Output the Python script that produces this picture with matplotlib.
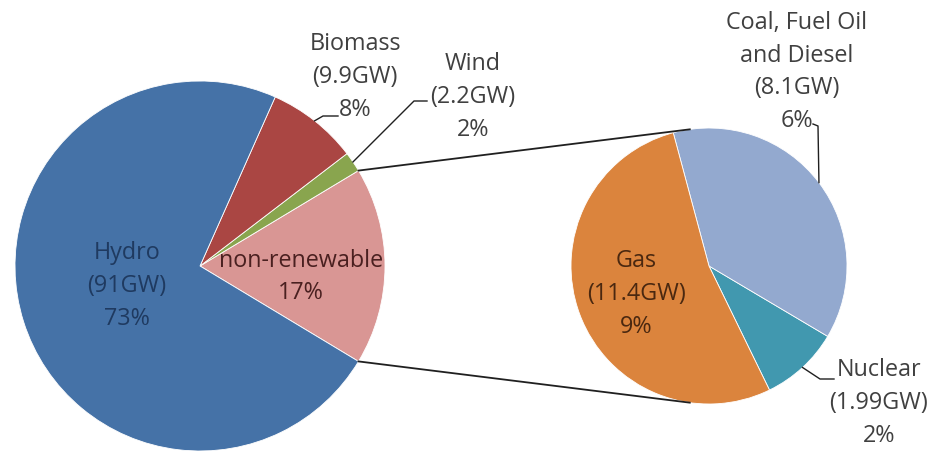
import numpy as np
import matplotlib.pyplot as plt

plt.rcParams['font.family'] = ['Open Sans', 'DejaVu Sans']

# left pie: renewable sources plus the grouped non-renewable slice
main_names = ['non-renewable', 'Wind', 'Biomass', 'Hydro']
main_gw = [2.2, 9.9, 91]           # Wind, Biomass, Hydro
main_pct = [17, 2, 8, 73]
main_colors = ['#D99694', '#89A54E', '#AA4643', '#4572A7']

# right pie: breakdown of non-renewable
sub_names = ['Nuclear', 'Coal, Fuel Oil\nand Diesel', 'Gas']
sub_gw = [1.99, 8.1, 11.4]
sub_pct = [2, 6, 9]
sub_colors = ['#4198AF', '#93A9CF', '#DB843D']

W, H = 936, 452
fig = plt.figure(figsize=(W / 100, H / 100), dpi=100)
ax = fig.add_axes([0, 0, 1, 1])

c1, r1 = (200, 185), 185
c2, r2 = (709, 185), 138

vals1 = [sum(sub_gw)] + main_gw
start1 = -180 * vals1[0] / sum(vals1)
wp = dict(edgecolor='white', linewidth=0.6)
ax.pie(vals1, colors=main_colors, startangle=start1, counterclock=True,
       center=c1, radius=r1, wedgeprops=wp)
ax.pie(sub_gw, colors=sub_colors, startangle=-64, counterclock=True,
       center=c2, radius=r2, wedgeprops=wp)

ax.set_xlim(0, W)
ax.set_ylim(0, H)
ax.set_aspect('equal')
ax.axis('off')


def pt(c, r, ang):
    a = np.radians(ang)
    return c[0] + r * np.cos(a), c[1] + r * np.sin(a)


# wedge boundary angles
edges1 = start1 + 360 * np.cumsum([0] + vals1) / sum(vals1)
edges2 = -64 + 360 * np.cumsum([0] + sub_gw) / sum(sub_gw)
mid1 = (edges1[:-1] + edges1[1:]) / 2
mid2 = (edges2[:-1] + edges2[1:]) / 2

# connector lines between the two pies
lc = '#202020'
for a_left, a_right in [(edges1[1], 98), (edges1[0], -98)]:
    x0, y0 = pt(c1, r1, a_left)
    x1, y1 = pt(c2, r2, a_right)
    ax.plot([x0, x1], [y0, y1], color=lc, lw=1.3)

fs = 16.8
ls = 1.48
dark = '#404040'

# inside labels
ax.text(127, 166, 'Hydro\n(%gGW)\n%d%%' % (main_gw[2], main_pct[3]),
        ha='center', va='center', fontsize=fs, color='#1F3A60', linespacing=ls)
ax.text(301, 175, '%s\n%d%%' % (main_names[0], main_pct[0]),
        ha='center', va='center', fontsize=fs, color='#4A2020', linespacing=ls)
ax.text(636, 158, 'Gas\n(%gGW)\n%d%%' % (sub_gw[2], sub_pct[2]),
        ha='center', va='center', fontsize=fs, color='#4A2810', linespacing=ls)

# outside labels with leader lines
ax.text(355, 375, 'Biomass\n(%gGW)\n%d%%' % (main_gw[1], main_pct[2]),
        ha='center', va='center', fontsize=fs, color=dark, linespacing=ls)
x0, y0 = pt(c1, r1, mid1[2])
ax.plot([x0, 323, 338], [y0, 335, 335], color=lc, lw=1)

ax.text(473, 355, 'Wind\n(%gGW)\n%d%%' % (main_gw[0], main_pct[1]),
        ha='center', va='center', fontsize=fs, color=dark, linespacing=ls)
x0, y0 = pt(c1, r1, mid1[1])
ax.plot([x0, 414, 427], [y0, 350, 350], color=lc, lw=1)

ax.text(797, 380, '%s\n(%gGW)\n%d%%' % (sub_names[1], sub_gw[1], sub_pct[1]),
        ha='center', va='center', fontsize=fs, color=dark, linespacing=ls)
x0, y0 = pt(c2, r2, mid2[1])
ax.plot([x0, 818, 813], [y0, 325, 327], color=lc, lw=1)

ax.text(879, 49, 'Nuclear\n(%gGW)\n%d%%' % (sub_gw[0], sub_pct[0]),
        ha='center', va='center', fontsize=fs, color=dark, linespacing=ls)
x0, y0 = pt(c2, r2, mid2[0])
ax.plot([x0, 820, 834], [y0, 72, 72], color=lc, lw=1)

fig.savefig('out.png', dpi=100)
